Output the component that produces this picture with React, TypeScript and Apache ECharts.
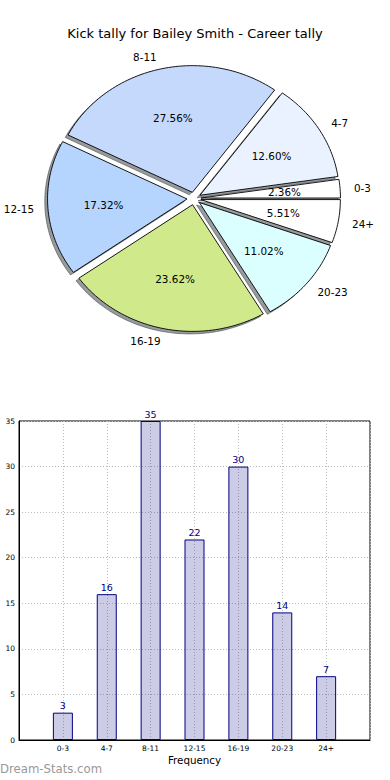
import React, { useEffect, useRef } from "react";
import * as echarts from "echarts";

const categories = ["0-3", "4-7", "8-11", "12-15", "16-19", "20-23", "24+"];
const kicks = [3, 16, 35, 22, 30, 14, 7];
const sliceColors = ["#ffffff", "#ebf2ff", "#c5d9fd", "#b5d5fe", "#cfe98b", "#dbffff", "#ffffff"];

const FONT = "DejaVu Sans";

export default function App() {
  const ref = useRef<HTMLDivElement>(null);
  useEffect(() => {
    if (!ref.current) return;
    const chart = echarts.init(ref.current, null, { renderer: "svg" });
    const total = kicks.reduce((a, b) => a + b, 0);
    const starts: number[] = [];
    let acc = 0;
    kicks.forEach((v) => {
      starts.push(acc);
      acc += v;
    });
    const CX = 194, CY = 198.5, RX = 139.5, RY = 126.7, EXPLODE = 0.05;

    const renderItem = (params: any, api: any) => {
      const i = params.dataIndex;
      const v = api.value(0);
      const a0 = (starts[i] / total) * Math.PI * 2;
      const a1 = ((starts[i] + v) / total) * Math.PI * 2;
      const mid = (a0 + a1) / 2;
      const ox = CX + RX * EXPLODE * Math.cos(mid);
      const oy = CY - RY * EXPLODE * Math.sin(mid);
      const pts: number[][] = [[ox, oy]];
      const n = Math.max(2, Math.ceil((a1 - a0) / (Math.PI / 120)));
      for (let k = 0; k <= n; k++) {
        const a = a0 + ((a1 - a0) * k) / n;
        pts.push([ox + RX * Math.cos(a), oy - RY * Math.sin(a)]);
      }
      const sh = pts.map(([x, y]) => [x - 0.02 * RX, y + 0.02 * RY]);
      const c = Math.cos(mid), s = Math.sin(mid);
      const lx = ox + RX * 1.1 * c, ly = oy - RY * 1.1 * s;
      const px = ox + RX * 0.6 * c, py = oy - RY * 0.6 * s;
      return {
        type: "group",
        children: [
          {
            type: "polygon",
            z2: 1,
            shape: { points: sh },
            style: { fill: "rgba(50,55,60,0.5)", stroke: "rgba(50,55,60,0.5)", lineWidth: 1 },
          },
          {
            type: "polygon",
            z2: 10,
            shape: { points: pts },
            style: { fill: sliceColors[i], stroke: "#000", lineWidth: 0.9 },
          },
          {
            type: "text",
            z2: 20,
            x: lx,
            y: ly,
            style: {
              text: categories[i],
              fontSize: 10.4,
              fontFamily: FONT,
              fill: "#000",
              align: c >= 0 ? "left" : "right",
              verticalAlign: "middle",
            },
          },
          {
            type: "text",
            z2: 20,
            x: px,
            y: py,
            style: {
              text: ((v / total) * 100).toFixed(2) + "%",
              fontSize: 10.4,
              fontFamily: FONT,
              fill: "#000",
              align: "center",
              verticalAlign: "middle",
            },
          },
        ],
      };
    };

    chart.setOption({
      animation: false,
      title: {
        text: "Kick tally for Bailey Smith - Career tally",
        left: "center",
        top: 22,
        textStyle: { fontFamily: FONT, fontSize: 13, fontWeight: "normal", color: "#000" },
      },
      grid: {
        left: 19,
        right: 20,
        top: 421,
        bottom: 40,
        containLabel: false,
        outerBoundsMode: "none",
        show: true,
        borderColor: "#000",
        borderWidth: 1,
        backgroundColor: "transparent",
      },
      xAxis: {
        type: "value",
        min: 0,
        max: 8,
        interval: 1,
        name: "Frequency",
        nameLocation: "middle",
        nameGap: 15,
        nameTextStyle: { fontFamily: FONT, fontSize: 10.3, color: "#000" },
        axisLine: { show: true, lineStyle: { color: "#000", width: 1 } },
        axisTick: { show: false },
        axisLabel: {
          fontFamily: FONT,
          fontSize: 7.5,
          color: "#000",
          margin: 4,
          formatter: (val: number) => categories[val - 1] ?? "",
        },
        splitLine: { show: true, lineStyle: { color: "#bdbdbd", type: [1, 2], width: 1 } },
      },
      yAxis: {
        type: "value",
        min: 0,
        max: 35,
        interval: 5,
        name: "Occurrences",
        nameLocation: "middle",
        nameRotate: 90,
        nameGap: 16,
        nameTextStyle: { fontFamily: FONT, fontSize: 10.3, color: "#000" },
        axisLine: { show: true, lineStyle: { color: "#000", width: 1 } },
        axisTick: { show: false },
        axisLabel: { fontFamily: FONT, fontSize: 7.5, color: "#000", margin: 4 },
        splitLine: { show: true, lineStyle: { color: "#bdbdbd", type: [1, 2], width: 1 } },
      },
      graphic: [
        {
          type: "text",
          left: 0,
          top: 763,
          style: { text: "Dream-Stats.com", fontFamily: FONT, fontSize: 11.7, fill: "#999" },
        },
      ],
      series: [
        {
          type: "bar",
          data: kicks.map((v, i) => [i + 1, v]),
          barWidth: 20,
          itemStyle: { color: "rgba(0,0,128,0.2)", borderColor: "#000080", borderWidth: 1 },
          label: {
            show: true,
            position: "top",
            distance: 2,
            color: "#000080",
            fontFamily: FONT,
            fontSize: 9.5,
          },
        },
        {
          type: "custom",
          coordinateSystem: "none",
          silent: true,
          dimensions: ["value"],
          data: kicks.map((v) => [v]),
          renderItem,
        },
      ],
    });
    return () => chart.dispose();
  }, []);
  return (
    <div
      ref={ref}
      style={{ position: "absolute", left: 0, top: 0, width: 390, height: 780 }}
    />
  );
}
